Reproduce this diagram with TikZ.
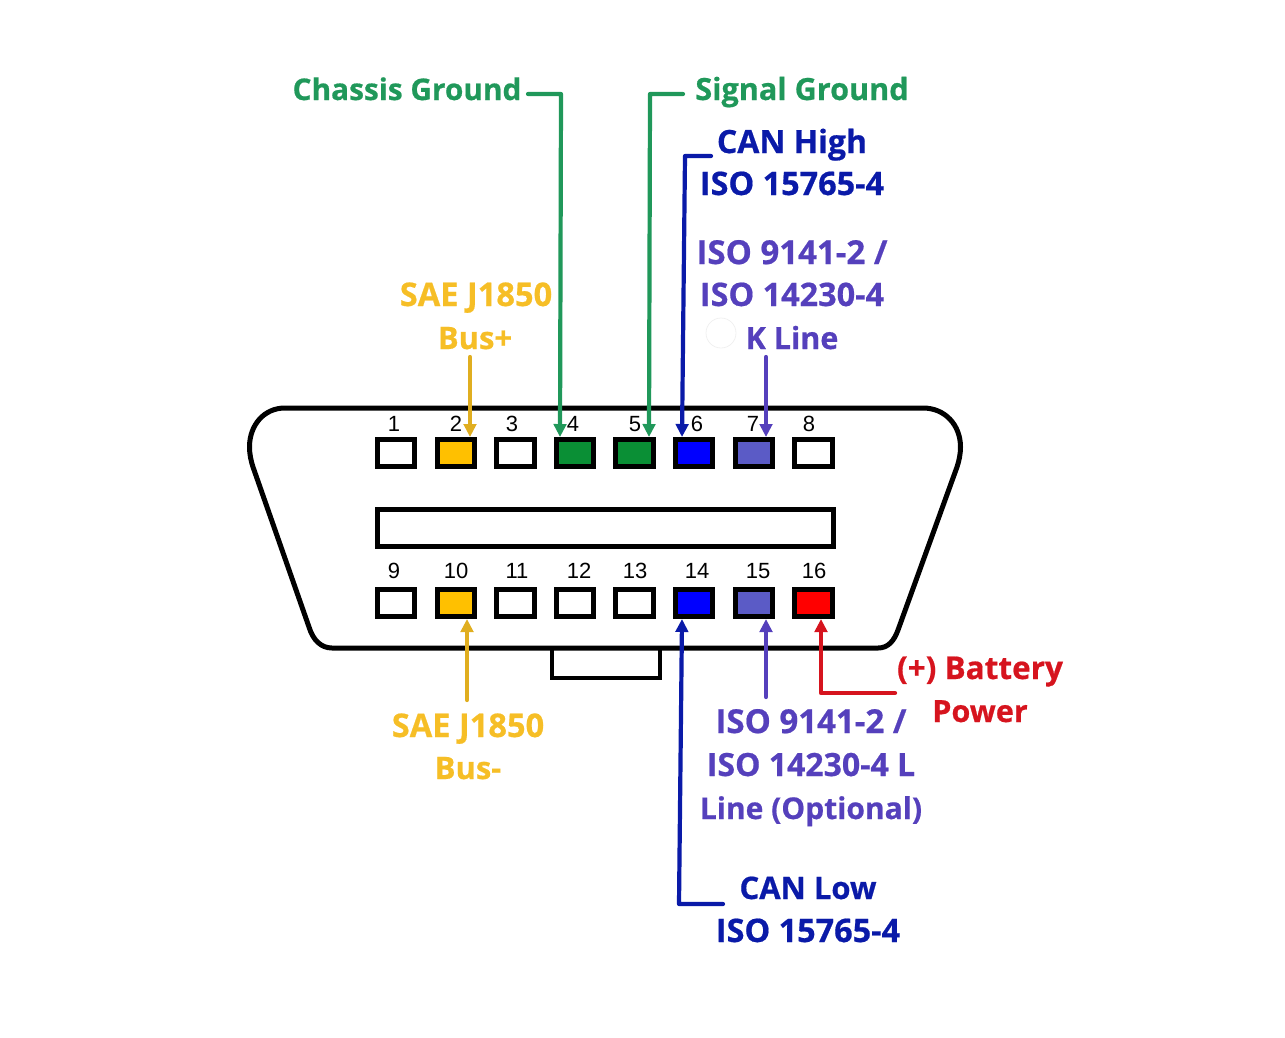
\documentclass[tikz,border=0pt]{standalone}
\usepackage{fontspec}
\setmainfont{Open Sans}
\newfontfamily\numfont{Liberation Sans}
\newfontfamily\lblfont[UprightFeatures={FakeBold=0.6},BoldFeatures={FakeBold=0.6}]{Open Sans}
\usetikzlibrary{arrows.meta}
\definecolor{pinamber}{HTML}{FFC000}
\definecolor{pingreen}{HTML}{0A8F35}
\definecolor{pinblue}{HTML}{0000FF}
\definecolor{pinviolet}{HTML}{5B5BC6}
\definecolor{pinred}{HTML}{FF0000}
\definecolor{txtamber}{HTML}{F6BE26}
\definecolor{wireamber}{HTML}{E0AE20}
\definecolor{txtgreen}{HTML}{20985A}
\definecolor{txtnavy}{HTML}{0A1AA8}
\definecolor{txtviolet}{HTML}{5540BC}
\definecolor{txtred}{HTML}{D6141E}
\tikzset{
  pin/.style={draw=black,line width=5pt,minimum width=37.5pt,minimum height=27pt,inner sep=0pt},
  pinno/.style={inner sep=0pt,font=\numfont\fontsize{22}{22}\selectfont},
  lbl/.style={inner sep=0pt,anchor=base,font=\lblfont\bfseries\fontsize{#1}{#1}\selectfont},
  wire/.style={line width=4.2pt,line cap=round,line join=round,-{Triangle[length=13pt,width=12.5pt]}}
}
\begin{document}
\begin{tikzpicture}[x=1pt,y=-1pt]
    \useasboundingbox (0,0) rectangle (1285,1037);
    % connector body
    \draw[line width=5pt] (285,408)--(923,408)
      .. controls (945,408) and (960.5,425) .. (960.5,447)
      .. controls (960.5,454) and (959,461) .. (957,467)
      --(898,630)
      .. controls (894,641) and (888,648) .. (878,648)
      --(332,648)
      .. controls (321,648) and (313,640) .. (309,627)
      --(253,467)
      .. controls (251,461) and (249.5,454) .. (249.5,447)
      .. controls (249.5,425) and (264,408) .. (285,408)--cycle;
    \draw[line width=4.5pt] (552,648)--(552,678)--(660,678)--(660,648);
    \draw[line width=5pt] (377.5,509.5) rectangle (833,546);
    \node[pin] (pa) at (396,453) {};
    \node[pin,fill=pinamber] (pb) at (456,453) {};
    \node[pin] (pc) at (515.5,453) {};
    \node[pin,fill=pingreen] (pd) at (575,453) {};
    \node[pin,fill=pingreen] (pe) at (634.5,453) {};
    \node[pin,fill=pinblue] (pf) at (694,453) {};
    \node[pin,fill=pinviolet] (pg) at (754,453) {};
    \node[pin] (ph) at (813.5,453) {};
    \node[pin] (qa) at (396,603) {};
    \node[pin,fill=pinamber] (qb) at (456,603) {};
    \node[pin] (qc) at (515.5,603) {};
    \node[pin] (qd) at (575,603) {};
    \node[pin] (qe) at (634.5,603) {};
    \node[pin,fill=pinblue] (qf) at (694,603) {};
    \node[pin,fill=pinviolet] (qg) at (754,603) {};
    \node[pin,fill=pinred] (qh) at (813.5,603) {};
    \node[pinno] (na) at (394,424) {1};
    \node[pinno] (nb) at (456,424) {2};
    \node[pinno] (nc) at (512,424) {3};
    \node[pinno] (nd) at (573,424) {4};
    \node[pinno] (ne) at (635,424) {5};
    \node[pinno] (nf) at (697,424) {6};
    \node[pinno] (ng) at (753,424) {7};
    \node[pinno] (nh) at (809,424) {8};
    \node[pinno] (ma) at (394,571) {9};
    \node[pinno] (mb) at (456,571) {10};
    \node[pinno] (mc) at (517,571) {11};
    \node[pinno] (md) at (579,571) {12};
    \node[pinno] (me) at (635,571) {13};
    \node[pinno] (mf) at (697,571) {14};
    \node[pinno] (mg) at (758,571) {15};
    \node[pinno] (mh) at (814,571) {16};
    % labels
    \node[lbl=29.8,txtgreen] (chassis) at (407,100) {Chassis Ground};
    \node[lbl=30.6,txtgreen] (signal) at (802,100) {Signal Ground};
    \node[lbl=32,txtnavy] (canhi) at (792,153) {CAN High};
    \node[lbl=32.4,txtnavy] (canhib) at (792,195) {ISO 15765-4};
    \node[lbl=33,txtviolet] (ka) at (792,264) {ISO 9141-2 /};
    \node[lbl=32.4,txtviolet] (kb) at (792,306) {ISO 14230-4};
    \node[lbl=30.5,txtviolet] (kc) at (792,349) {K Line};
    \node[lbl=32.6,txtamber] (busp) at (476,306) {SAE J1850};
    \node[lbl=31,txtamber] (buspb) at (475,349) {Bus+};
    \node[lbl=32.6,txtamber] (busm) at (468,737) {SAE J1850};
    \node[lbl=31,txtamber] (busmb) at (468,779) {Bus-};
    \node[lbl=31.5,txtred] (batt) at (980,679) {(+) Battery};
    \node[lbl=30.5,txtred] (battb) at (980,722) {Power};
    \node[lbl=33,txtviolet] (la) at (811,733) {ISO 9141-2 /};
    \node[lbl=32,txtviolet] (lb) at (811,776) {ISO 14230-4 L};
    \node[lbl=30,txtviolet] (lc) at (811,819) {Line (Optional)};
    \node[lbl=31,txtnavy] (canlo) at (808,899) {CAN Low};
    \node[lbl=32.4,txtnavy] (canlob) at (808,942) {ISO 15765-4};
    \draw[black!6,line width=0.8pt] (721,333) circle (15);
    % free ends of the wires
    \coordinate (wa) at (528,94);
    \coordinate (wb) at (561,94);
    \coordinate (wc) at (683,94);
    \coordinate (wd) at (650,94);
    \coordinate (we) at (711,156);
    \coordinate (wf) at (685,156);
    \coordinate (wg) at (723,904);
    \coordinate (wh) at (679,904);
    \coordinate (wi) at (895,693);
    \coordinate (wj) at (821,693);
    \coordinate (wk) at (470,357);
    \coordinate (wl) at (766,357);
    \coordinate (wm) at (467,700);
    \coordinate (wn) at (766,697);
    \draw[wire,wireamber] (wk)--([xshift=14pt]pb.north);
    \draw[wire,txtgreen] (wa)--(wb)--([xshift=-15pt]pd.north);
    \draw[wire,txtgreen] (wc)--(wd)--([xshift=14.5pt]pe.north);
    \draw[wire,txtnavy] (we)--(wf)--([xshift=-12pt]pf.north);
    \draw[wire,txtviolet] (wl)--([xshift=12pt]pg.north);
    \draw[wire,wireamber] (wm)--([xshift=11pt]qb.south);
    \draw[wire,txtnavy] (wg)--(wh)--([xshift=-12pt]qf.south);
    \draw[wire,txtviolet] (wn)--([xshift=12pt]qg.south);
    \draw[wire,txtred] (wi)--(wj)--([xshift=7.5pt]qh.south);
\end{tikzpicture}
\end{document}
